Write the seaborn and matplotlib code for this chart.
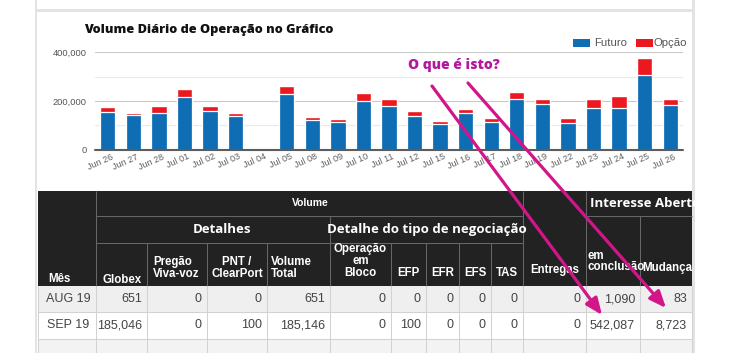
import matplotlib
matplotlib.use("Agg")
import matplotlib.pyplot as plt
import matplotlib.transforms as mtrans
from matplotlib.patches import Rectangle
import numpy as np
import pandas as pd
import seaborn as sns

# ---------------- data ----------------
dates = ["Jun 26", "Jun 27", "Jun 28", "Jul 01", "Jul 02", "Jul 03", "Jul 04",
         "Jul 05", "Jul 08", "Jul 09", "Jul 10", "Jul 11", "Jul 12", "Jul 15",
         "Jul 16", "Jul 17", "Jul 18", "Jul 19", "Jul 22", "Jul 23", "Jul 24",
         "Jul 25", "Jul 26"]
futuro = [155000, 140000, 151000, 218000, 160000, 137000, 0, 230000, 120000,
          112000, 200000, 179000, 138000, 103000, 151000, 114000, 208000,
          188000, 111000, 172000, 172000, 308000, 184000]
opcao = [18000, 11000, 28000, 30000, 20000, 14000, 0, 32000, 12000, 12000,
         31000, 28000, 19000, 16000, 17000, 17000, 28000, 18000, 17000, 34000,
         49000, 67000, 22000]
y_ticks = [0, 200000, 400000]
y_tick_labels = ["0", "200,000", "400,000"]
series_names = ["Futuro", "Opção"]

months = ["AUG 19", "SEP 19"]
globex = [651, 185046]
pregao = [0, 0]
pnt = [0, 100]
vol_total = [651, 185146]
bloco = [0, 0]
efp = [0, 100]
efr = [0, 0]
efs = [0, 0]
tas = [0, 0]
entregas = [0, 0]
em_conclusao = [1090, 542087]
mudanca = [83, 8723]

title = "Volume Diário de Operação no Gráfico"
note = "O que é isto?"

BLUE = "#0f6db4"
RED = "#ec1820"
MAG = "#d2168a"
PURPLE = "#b3189e"

sns.set_style("white")
plt.rcParams["font.family"] = ["Liberation Sans", "DejaVu Sans"]

W, H = 735, 353
fig = plt.figure(figsize=(W / 100, H / 100), dpi=100)
fig.patch.set_facecolor("white")


def px_axes(x0, y0, x1, y1):
    return [x0 / W, 1 - y1 / H, (x1 - x0) / W, (y1 - y0) / H]


# ---------------- chart ----------------
ax = fig.add_axes(px_axes(95, 52.3, 683, 149.5))
df = pd.DataFrame({"data": dates, "futuro": futuro, "opcao": opcao})
df["total"] = df["futuro"] + df["opcao"]
sns.barplot(data=df, x="data", y="total", order=dates, color=RED,
            saturation=1, width=0.6, ax=ax, zorder=2)
sns.barplot(data=df, x="data", y="futuro", order=dates, color=BLUE,
            saturation=1, width=0.6, ax=ax, edgecolor="white",
            linewidth=0.9, zorder=3)
ax.set_xlim(-0.5, len(dates) - 0.5)
ax.set_ylim(0, 400000)
ax.set_xlabel("")
ax.set_ylabel("")
ax.set_yticks(y_ticks)
ax.set_yticks([100000, 300000], minor=True)
ax.set_yticklabels(y_tick_labels, fontsize=6.7, color="#555555")
ax.grid(axis="y", which="major", color="#c9c9c9", lw=0.8)
ax.grid(axis="y", which="minor", color="#e9e9e9", lw=0.8)
ax.set_axisbelow(True)
ax.axhline(0, color="#5c5c5c", lw=1.5, zorder=6, clip_on=False)
sns.despine(ax=ax, left=True, bottom=True)
ax.tick_params(axis="both", which="both", length=0)
ax.tick_params(axis="y", pad=6)
ax.tick_params(axis="x", pad=2)
ax.set_xticks(range(len(dates)))
ax.set_xticklabels(dates, rotation=24, ha="right", rotation_mode="anchor",
                   fontsize=6.5, color="#606060")
off = mtrans.ScaledTranslation(3 / 100, 0, fig.dpi_scale_trans)
for lbl in ax.get_xticklabels():
    lbl.set_transform(lbl.get_transform() + off)

# ---------------- overlay (page, legend, table, annotation) ----------------
ov = fig.add_axes([0, 0, 1, 1])
ov.set_xlim(0, W)
ov.set_ylim(H, 0)
ov.axis("off")
ov.patch.set_alpha(0)
ov.set_zorder(5)

# page borders
ov.add_patch(Rectangle((35, 0), 2.5, H, color="#e3e3e3", lw=0))
ov.add_patch(Rectangle((35, 9), 660, 3, color="#e3e3e3", lw=0))
ov.add_patch(Rectangle((692, 0), 3, H, color="#e3e3e3", lw=0))

# title
ov.text(84, 33, title, fontsize=9.15, fontweight=800, family="Open Sans",
        color="#111111", va="baseline", ha="left")

# legend
ov.add_patch(Rectangle((573, 39), 17, 8, color=BLUE, lw=0))
ov.text(594, 43.5, series_names[0], fontsize=8.2, color="#555555", va="center")
ov.add_patch(Rectangle((636, 39), 17, 8, color=RED, lw=0))
ov.text(654, 43.5, series_names[1], fontsize=8.2, color="#555555", va="center")

# ---------------- table ----------------
cx = [38, 96.5, 147, 207, 267, 330, 391, 426, 459, 491, 523, 586, 640, 692]
HDR = "#222222"
HL = "#666666"
GL = "#d2d2d2"
ov.add_patch(Rectangle((cx[0], 191), cx[-1] - cx[0], 95, color=HDR, lw=0))
ov.add_patch(Rectangle((cx[0], 286), cx[-1] - cx[0], 26, color="#efefef", lw=0))
ov.add_patch(Rectangle((cx[0], 312), cx[-1] - cx[0], 27, color="white", lw=0))
ov.add_patch(Rectangle((cx[0], 339), cx[-1] - cx[0], 14, color="#f3f3f3", lw=0))


def seg(x0, y0, x1, y1, c, lw=0.75):
    ov.plot([x0, x1], [y0, y1], color=c, lw=lw, solid_capstyle="butt")


# header grid lines
seg(cx[1], 216, cx[10], 216, HL)
seg(cx[11], 216, cx[13], 216, HL)
seg(cx[1], 243, cx[10], 243, HL)
for x in (cx[1], cx[10], cx[11]):
    seg(x, 191, x, 286, HL)
for x in (cx[5], cx[12]):
    seg(x, 216, x, 286, HL)
for x in (cx[2], cx[3], cx[4], cx[6], cx[7], cx[8], cx[9]):
    seg(x, 243, x, 286, HL)
# body grid lines
for y in (312, 339):
    seg(cx[0], y, cx[-1], y, GL)
for x in cx:
    seg(x, 286, x, H, GL)

hdr_kw = dict(color="white", fontweight="bold", fontsize=8.3)
big_kw = dict(color="white", fontweight="bold", fontsize=9.5, family="Open Sans")

ov.text(310, 203.5, "Volume", color="white", fontweight="bold",
        fontsize=7.5, ha="center", va="center")
ov.text(222, 229.5, "Detalhes", ha="center", va="center", **big_kw)
ov.text(427, 229.5, "Detalhe do tipo de negociação", ha="center",
        va="center", **big_kw)
t_ia = ov.text(590, 203.5, "Interesse Aberto", ha="left", va="center", **big_kw)
t_ia.set_clip_path(Rectangle((586, 191), 106, 25, transform=ov.transData))

ov.text(48, 279, "Mês", ha="left", va="center", **hdr_kw)
ov.text((cx[1] + cx[2]) / 2, 280, "Globex", ha="center", va="center", **hdr_kw)
ov.text(153, 262, "Pregão", ha="left", va="center", **hdr_kw)
ov.text(153, 274, "Viva-voz", ha="left", va="center", **hdr_kw)
ov.text((cx[3] + cx[4]) / 2, 262, "PNT /", ha="center", va="center", **hdr_kw)
ov.text((cx[3] + cx[4]) / 2, 274, "ClearPort", ha="center", va="center", **hdr_kw)
ov.text(271, 262, "Volume", ha="left", va="center", **hdr_kw)
ov.text(271, 274, "Total", ha="left", va="center", **hdr_kw)
for i, s in enumerate(["Operação", "em", "Bloco"]):
    ov.text((cx[5] + cx[6]) / 2, 249 + 12 * i, s, ha="center", va="center",
            **hdr_kw)
for j, s in enumerate(["EFP", "EFR", "EFS", "TAS"]):
    ov.text((cx[6 + j] + cx[7 + j]) / 2, 273, s, ha="center", va="center",
            **hdr_kw)
ov.text((cx[10] + cx[11]) / 2, 270, "Entregas", ha="center", va="center",
        **hdr_kw)
ov.text(588, 256, "em", ha="left", va="center", **hdr_kw)
ov.text(588, 266.5, "conclusão", ha="left", va="center", **hdr_kw)
t_m = ov.text(642, 268, "Mudança", ha="left", va="center", **hdr_kw)
t_m.set_clip_path(Rectangle((640, 243), 52, 43, transform=ov.transData))

cols = [globex, pregao, pnt, vol_total, bloco, efp, efr, efs, tas, entregas,
        em_conclusao, mudanca]
row_y = [299, 325.5]
for r, m in enumerate(months):
    ov.text((cx[0] + cx[1]) / 2 + 1, row_y[r], m, ha="center", va="center",
            fontsize=9, color="#444444")
    for c, vals in enumerate(cols):
        ov.text(cx[c + 2] - 5, row_y[r], f"{vals[r]:,}", ha="right",
                va="center", fontsize=9, color="#444444")

# ---------------- annotation ----------------
ov.text(408, 69, note, fontsize=10, fontweight=800, family="Open Sans",
        color=PURPLE, va="baseline", ha="left", zorder=20)
for (x0, y0, x1, y1) in [(432, 86, 602, 315), (468, 83, 666, 308)]:
    ov.annotate("", xy=(x1, y1), xytext=(x0, y0), zorder=20,
                arrowprops=dict(arrowstyle="-|>,head_length=1.0,head_width=0.42",
                                color=MAG, lw=2.3, shrinkA=0, shrinkB=0))

fig.savefig("out.png", dpi=100)
